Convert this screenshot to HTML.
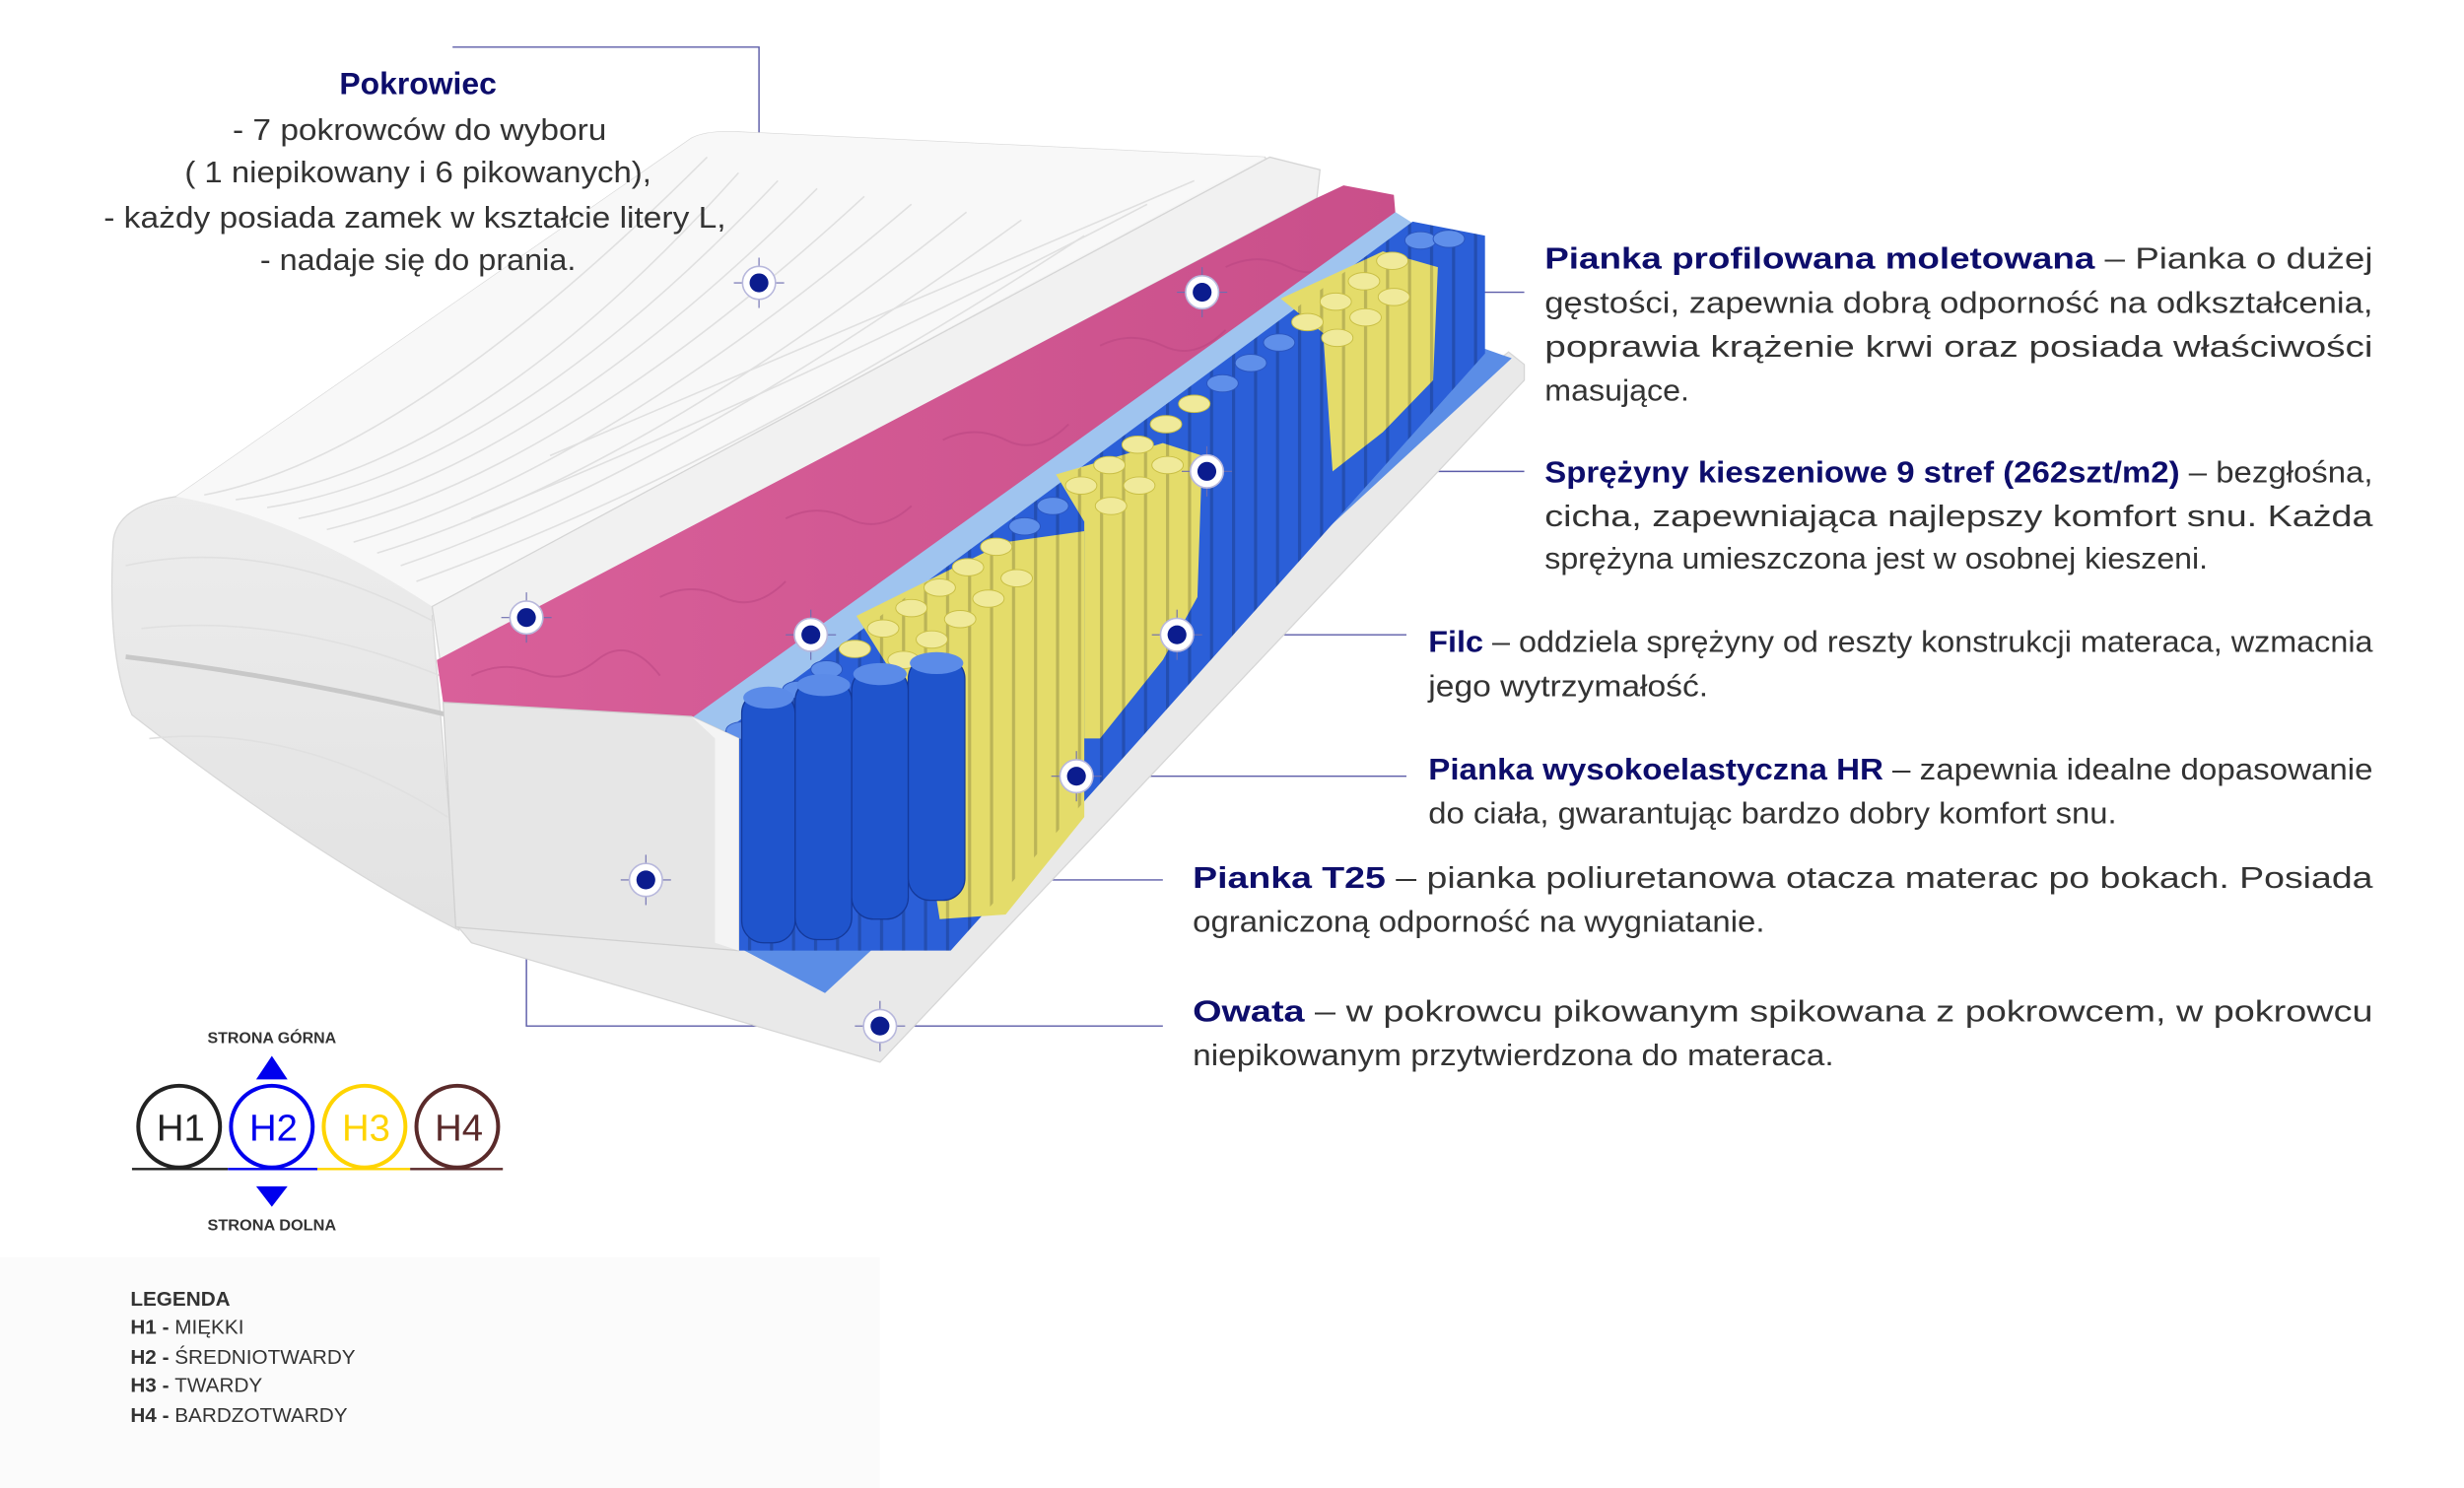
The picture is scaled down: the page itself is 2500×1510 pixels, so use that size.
<!DOCTYPE html>
<html><head><meta charset="utf-8"><style>
html,body{margin:0;padding:0;background:#fff;}
svg{display:block;}
text{font-family:"Liberation Sans",sans-serif;}
</style></head><body>
<svg width="2500" height="1510" viewBox="0 0 1568 947" preserveAspectRatio="none" xmlns="http://www.w3.org/2000/svg">
<defs>
<linearGradient id="cov" x1="0" y1="0" x2="0" y2="1"><stop offset="0" stop-color="#f6f6f6"/><stop offset="1" stop-color="#e2e2e2"/></linearGradient>
<linearGradient id="pink" x1="0" y1="0" x2="1" y2="0"><stop offset="0" stop-color="#d9609a"/><stop offset="1" stop-color="#c94f8a"/></linearGradient>
<pattern id="cols" width="14" height="40" patternUnits="userSpaceOnUse"><rect x="0" y="0" width="2" height="40" fill="#000" opacity="0.18"/></pattern>
<g id="mk"><line x1="-16" y1="0" x2="16" y2="0" stroke="#6d6db0" stroke-width="0.7"/><line x1="0" y1="-16" x2="0" y2="16" stroke="#6d6db0" stroke-width="0.7"/><circle r="10.5" fill="#fff" stroke="#b8b8dc" stroke-width="1"/><circle r="6" fill="#0b1c8e"/></g>
<ellipse id="eb" rx="10" ry="5.5" fill="#5f8fea" stroke="#2a55c0" stroke-width="0.6"/>
<ellipse id="ey" rx="10" ry="5.5" fill="#f0ea9a" stroke="#c9bf45" stroke-width="0.6"/>
</defs>
<rect width="1568" height="947" fill="#fff"/>
<rect x="0" y="800" width="560" height="147" fill="#fbfbfb"/>

<g stroke="#5c5ca8" stroke-width="0.9" fill="none">
<polyline points="288,30 483,30 483,180"/>
<line x1="765" y1="186" x2="970" y2="186"/>
<line x1="768" y1="300" x2="970" y2="300"/>
<line x1="516" y1="404" x2="895" y2="404"/>
<line x1="685" y1="494" x2="895" y2="494"/>
<line x1="411" y1="560" x2="740" y2="560"/>
<polyline points="335,393 335,653 740,653"/>
</g>

<polygon points="290,588 470,603 960,224 970,232 970,242 560,676 300,600" fill="#e9e9e9" stroke="#d6d6d6" stroke-width="0.8"/>
<polygon points="470,603 945,222 962,228 525,632" fill="#5b8de6"/>
<path d="M72,345 Q74,322 112,316 L440,88 Q450,83 470,84 L805,100 L812,112 L275,392 L292,592 Q200,545 84,455 Q68,420 72,345 Z" fill="url(#cov)" stroke="#d8d8d8" stroke-width="0.8"/>
<path d="M112,316 L440,88 Q450,83 470,84 L805,100 L275,386 Q190,330 112,316 Z" fill="#f8f8f8"/>
<g stroke="#e0e0e0" stroke-width="1" fill="none">
<path d="M130,315 Q260,290 450,100"/><path d="M150,318 Q300,300 470,110"/><path d="M170,323 Q320,300 495,115"/><path d="M190,330 Q340,300 520,120"/><path d="M208,337 Q360,300 550,125"/><path d="M225,345 Q380,300 580,130"/><path d="M240,352 Q410,300 615,135"/><path d="M255,360 Q430,300 650,140"/><path d="M265,370 Q460,300 690,150"/><path d="M300,330 Q520,240 730,130"/><path d="M350,290 Q560,200 760,115"/>
<path d="M90,400 Q180,390 280,430"/><path d="M95,470 Q190,460 285,520"/><path d="M80,360 Q170,340 275,395"/>
</g>
<path d="M80,418 Q180,430 285,455" stroke="#c8c8c8" stroke-width="3" fill="none"/>
<polygon points="275,386 808,100 840,108 838,126 280,420" fill="#f1f1f1" stroke="#d5d5d5" stroke-width="0.8"/>
<polygon points="278,420 838,126 855,118 887,124 888,136 445,462 440,456 282,447" fill="url(#pink)"/>
<g stroke="#b84480" stroke-width="1.2" fill="none" opacity="0.5">
<path d="M300,430 Q320,420 340,428 T380,420 T420,430"/><path d="M500,330 Q520,320 540,330 T580,322"/><path d="M600,280 Q620,270 640,280 T680,270"/><path d="M700,220 Q720,210 740,220 T780,210"/><path d="M420,380 Q440,370 460,380 T500,370"/><path d="M780,170 Q800,160 820,170 T860,160"/>
</g>
<polygon points="440,457 888,135 899,142 455,470" fill="#9fc4ef"/>
<polygon points="455,470 899,141 945,150 945,225 605,605 470,605" fill="#2b5fd8"/>
<polygon points="545,392 640,345 690,338 690,520 640,582 598,585 575,440" fill="#e4dc6a"/>
<polygon points="672,302 740,282 765,290 762,380 740,420 700,470 690,470 690,332" fill="#e4dc6a"/>
<polygon points="815,190 880,160 915,170 912,242 880,275 848,300 842,212" fill="#e4dc6a"/>
<polygon points="455,470 899,141 945,150 945,225 605,605 470,605" fill="url(#cols)"/>
<!-- spring tops -->
<g>
<use href="#eb" x="472" y="465"/><use href="#eb" x="490" y="452"/><use href="#eb" x="508" y="439"/><use href="#eb" x="526" y="426"/>
<use href="#ey" x="544" y="413"/><use href="#ey" x="562" y="400"/><use href="#ey" x="580" y="387"/><use href="#ey" x="598" y="374"/><use href="#ey" x="616" y="361"/><use href="#ey" x="634" y="348"/>
<use href="#eb" x="652" y="335"/><use href="#eb" x="670" y="322"/>
<use href="#ey" x="688" y="309"/><use href="#ey" x="706" y="296"/><use href="#ey" x="724" y="283"/><use href="#ey" x="742" y="270"/><use href="#ey" x="760" y="257"/>
<use href="#eb" x="778" y="244"/><use href="#eb" x="796" y="231"/><use href="#eb" x="814" y="218"/>
<use href="#ey" x="832" y="205"/><use href="#ey" x="850" y="192"/><use href="#ey" x="868" y="179"/><use href="#ey" x="886" y="166"/>
<use href="#eb" x="904" y="153"/><use href="#eb" x="922" y="152"/>
<use href="#ey" x="575" y="420"/><use href="#ey" x="593" y="407"/><use href="#ey" x="611" y="394"/><use href="#ey" x="629" y="381"/><use href="#ey" x="647" y="368"/>
<use href="#ey" x="707" y="322"/><use href="#ey" x="725" y="309"/><use href="#ey" x="743" y="296"/>
<use href="#ey" x="851" y="215"/><use href="#ey" x="869" y="202"/><use href="#ey" x="887" y="189"/>
</g>
<g fill="#1f54cc" stroke="#14399a" stroke-width="0.8">
<rect x="472" y="440" width="34" height="160" rx="14"/>
<rect x="506" y="432" width="36" height="166" rx="14"/>
<rect x="542" y="425" width="36" height="160" rx="14"/>
<rect x="578" y="418" width="36" height="155" rx="14"/>
</g>
<g fill="#5b8be8"><ellipse cx="489" cy="444" rx="16" ry="7"/><ellipse cx="524" cy="436" rx="17" ry="7"/><ellipse cx="560" cy="429" rx="17" ry="7"/><ellipse cx="596" cy="422" rx="17" ry="7"/></g>
<polygon points="282,447 440,456 470,470 470,605 290,590" fill="#e6e6e6" stroke="#d0d0d0" stroke-width="0.8"/>
<polygon points="440,456 470,470 470,605 455,600 455,470" fill="#f4f4f4"/>

<use href="#mk" x="483" y="180"/><use href="#mk" x="765" y="186"/><use href="#mk" x="768" y="300"/>
<use href="#mk" x="516" y="404"/><use href="#mk" x="749" y="404"/><use href="#mk" x="685" y="494"/>
<use href="#mk" x="411" y="560"/><use href="#mk" x="560" y="653"/><use href="#mk" x="335" y="393"/>

<g font-size="19" fill="#333" text-anchor="middle">
<text x="266" y="60" font-weight="bold" fill="#0d0d6b" font-size="20" textLength="100" lengthAdjust="spacingAndGlyphs">Pokrowiec</text>
<text x="267" y="89" textLength="238" lengthAdjust="spacingAndGlyphs">- 7 pokrowców do wyboru</text>
<text x="266" y="116" textLength="297" lengthAdjust="spacingAndGlyphs">( 1 niepikowany i 6 pikowanych),</text>
<text x="264" y="145" textLength="396" lengthAdjust="spacingAndGlyphs">-  każdy posiada zamek w kształcie litery L,</text>
<text x="266" y="172" textLength="201" lengthAdjust="spacingAndGlyphs">- nadaje się do prania.</text>
</g>

<g font-size="19" fill="#333">
<text x="983" y="171" textLength="527" lengthAdjust="spacingAndGlyphs"><tspan font-weight="bold" fill="#0d0d6b">Pianka profilowana moletowana</tspan> – Pianka o dużej</text>
<text x="983" y="199" textLength="527" lengthAdjust="spacingAndGlyphs">gęstości, zapewnia dobrą odporność na odkształcenia,</text>
<text x="983" y="227" textLength="527" lengthAdjust="spacingAndGlyphs">poprawia krążenie krwi oraz posiada właściwości</text>
<text x="983" y="255" textLength="92" lengthAdjust="spacingAndGlyphs">masujące.</text>
<text x="983" y="307" textLength="527" lengthAdjust="spacingAndGlyphs"><tspan font-weight="bold" fill="#0d0d6b">Sprężyny kieszeniowe 9 stref (262szt/m2)</tspan> – bezgłośna,</text>
<text x="983" y="335" textLength="527" lengthAdjust="spacingAndGlyphs">cicha, zapewniająca najlepszy komfort snu. Każda</text>
<text x="983" y="362" textLength="422" lengthAdjust="spacingAndGlyphs">sprężyna umieszczona jest w osobnej kieszeni.</text>
<text x="909" y="415" textLength="601" lengthAdjust="spacingAndGlyphs"><tspan font-weight="bold" fill="#0d0d6b">Filc</tspan> – oddziela sprężyny od reszty konstrukcji materaca, wzmacnia</text>
<text x="909" y="443" textLength="178" lengthAdjust="spacingAndGlyphs">jego wytrzymałość.</text>
<text x="909" y="496" textLength="601" lengthAdjust="spacingAndGlyphs"><tspan font-weight="bold" fill="#0d0d6b">Pianka wysokoelastyczna HR</tspan> – zapewnia idealne dopasowanie</text>
<text x="909" y="524" textLength="438" lengthAdjust="spacingAndGlyphs">do ciała, gwarantując bardzo dobry komfort snu.</text>
<text x="759" y="565" textLength="751" lengthAdjust="spacingAndGlyphs"><tspan font-weight="bold" fill="#0d0d6b">Pianka T25</tspan>  –  pianka  poliuretanowa  otacza  materac  po  bokach.  Posiada</text>
<text x="759" y="593" textLength="364" lengthAdjust="spacingAndGlyphs">ograniczoną odporność na wygniatanie.</text>
<text x="759" y="650" textLength="751" lengthAdjust="spacingAndGlyphs"><tspan font-weight="bold" fill="#0d0d6b">Owata</tspan>  –  w  pokrowcu  pikowanym  spikowana  z  pokrowcem,  w  pokrowcu</text>
<text x="759" y="678" textLength="408" lengthAdjust="spacingAndGlyphs">niepikowanym przytwierdzona do materaca.</text>
</g>

<g font-weight="bold" font-size="10" fill="#333" text-anchor="middle">
<text x="173" y="664" textLength="82" lengthAdjust="spacingAndGlyphs">STRONA GÓRNA</text>
<text x="173" y="783" textLength="82" lengthAdjust="spacingAndGlyphs">STRONA DOLNA</text>
</g>
<polygon points="173,672 183,687 163,687" fill="#0000ee"/>
<polygon points="163,755 183,755 173,768" fill="#0000ee"/>
<g stroke-width="2.5" fill="none">
<circle cx="114" cy="717" r="26" stroke="#222"/>
<circle cx="173" cy="717" r="26" stroke="#0000ee"/>
<circle cx="232" cy="717" r="26" stroke="#ffd400"/>
<circle cx="291" cy="717" r="26" stroke="#5a2a2a"/>
<line x1="84" y1="744" x2="145" y2="744" stroke="#222" stroke-width="1.5"/>
<line x1="145" y1="744" x2="202" y2="744" stroke="#0000ee" stroke-width="1.5"/>
<line x1="202" y1="744" x2="261" y2="744" stroke="#ffd400" stroke-width="1.5"/>
<line x1="261" y1="744" x2="320" y2="744" stroke="#5a2a2a" stroke-width="1.5"/>
</g>
<g font-size="24" text-anchor="middle">
<text x="115" y="726" fill="#222">H1</text>
<text x="174" y="726" fill="#0000ee">H2</text>
<text x="233" y="726" fill="#ffd400">H3</text>
<text x="292" y="726" fill="#5a2a2a">H4</text>
</g>
<g font-size="13" fill="#333">
<text x="83" y="831" font-weight="bold">LEGENDA</text>
<text x="83" y="849"><tspan font-weight="bold">H1 - </tspan>MIĘKKI</text>
<text x="83" y="868"><tspan font-weight="bold">H2 - </tspan>ŚREDNIOTWARDY</text>
<text x="83" y="886"><tspan font-weight="bold">H3 - </tspan>TWARDY</text>
<text x="83" y="905"><tspan font-weight="bold">H4 - </tspan>BARDZOTWARDY</text>
</g>
</svg>
</body></html>
